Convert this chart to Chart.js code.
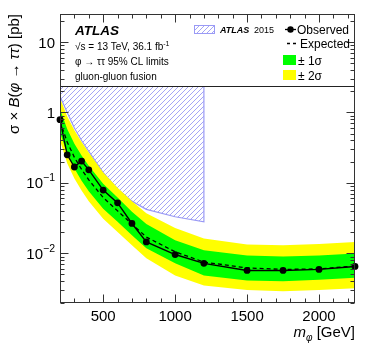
<!DOCTYPE html>
<html>
<head>
<meta charset="utf-8">
<script src="https://cdn.jsdelivr.net/npm/chart.js@4.4.1/dist/chart.umd.min.js"></script>
<style>
  html, body { margin: 0; padding: 0; background: #fff; }
  canvas { display: block; }
</style>
</head>
<body>
<canvas id="limitChart" width="374" height="361"></canvas>
<script>
// ── data (σ × B in pb) ──
const masses = [200, 250, 300, 350, 400, 500, 600, 700, 800, 1000, 1200, 1500, 1750, 2000, 2250];
const observed = [0.79, 0.25, 0.168, 0.204, 0.153, 0.079, 0.052, 0.0265, 0.0145, 0.0096, 0.0072, 0.0057, 0.0057, 0.0059, 0.0065];
const expected = [0.75, 0.38, 0.23, 0.155, 0.11, 0.062, 0.040, 0.026, 0.017, 0.0105, 0.0075, 0.0062, 0.0059, 0.0060, 0.0066];
const band1Up = [1.12, 0.58, 0.36, 0.245, 0.175, 0.097, 0.062, 0.039, 0.026, 0.0153, 0.0110, 0.0093, 0.0090, 0.0093, 0.0099];
const band1Down = [0.52, 0.26, 0.16, 0.107, 0.076, 0.043, 0.028, 0.018, 0.0118, 0.0072, 0.00485, 0.0041, 0.0040, 0.0042, 0.0045];
const band2Up = [1.6, 0.88, 0.56, 0.38, 0.27, 0.14, 0.085, 0.055, 0.037, 0.0228, 0.0162, 0.0133, 0.0130, 0.0135, 0.0145];
const band2Down = [0.40, 0.19, 0.115, 0.078, 0.055, 0.031, 0.020, 0.013, 0.0085, 0.00485, 0.0035, 0.0030, 0.0029, 0.0030, 0.0032];

// ATLAS 2015 exclusion (hatched)
const run1Masses = [200, 250, 300, 350, 400, 500, 600, 700, 800, 1000, 1200];
const run1Limit = [1.7, 1.0, 0.6, 0.4, 0.28, 0.14, 0.082, 0.055, 0.042, 0.033, 0.028];

const legendFloor = 2.35;   // lower edge of the text box
const xTickValues = [500, 1000, 1500, 2000];
const yTickValues = [10, 1, 0.1, 0.01];
const yTickLabels = [['10', ''], ['1', ''], ['10', '\u22121'], ['10', '\u22122']];

const FONT = '"Liberation Sans", Arial, Helvetica, sans-serif';
const HATCH = '#9a9af5';

function pts(xs, ys) {
  return xs.map((x, i) => ({ x, y: ys[i] }));
}

function makeHatch(ctx) {
  const p = document.createElement('canvas');
  p.width = 5; p.height = 5;
  const g = p.getContext('2d');
  g.strokeStyle = HATCH;
  g.lineWidth = 0.9;
  g.beginPath();
  g.moveTo(0, 5); g.lineTo(5, 0);
  g.moveTo(-1, 1); g.lineTo(1, -1);
  g.moveTo(4, 6); g.lineTo(6, 4);
  g.stroke();
  return ctx.createPattern(p, 'repeat');
}

const canvas = document.getElementById('limitChart');
const ctx = canvas.getContext('2d');
const hatch = makeHatch(ctx);

const hatchData = pts(run1Masses, run1Limit);
hatchData.push({ x: run1Masses[run1Masses.length - 1], y: legendFloor });

// text with a raised / lowered small part
function drawScript(c, x, y, base, script, size, dy, align) {
  c.font = `${size}px ${FONT}`;
  const wb = c.measureText(base).width;
  c.font = `${size * 0.7}px ${FONT}`;
  const ws = c.measureText(script).width;
  let x0 = align === 'right' ? x - wb - ws : x;
  c.textAlign = 'left';
  c.font = `${size}px ${FONT}`;
  c.fillText(base, x0, y);
  c.font = `${size * 0.7}px ${FONT}`;
  c.fillText(script, x0 + wb, y + dy);
}

const framePlugin = {
  id: 'frame',
  afterDraw(chart) {
    const c = chart.ctx;
    const { left, right, top, bottom } = chart.chartArea;
    const xs = chart.scales.x;
    const ys = chart.scales.y;
    c.save();
    c.fillStyle = '#000';
    c.strokeStyle = '#222';
    c.lineWidth = 1;

    // legend box lower edge
    const yl = Math.round(ys.getPixelForValue(legendFloor)) + 0.5;
    c.beginPath();
    c.moveTo(left, yl); c.lineTo(right, yl);
    c.stroke();

    // frame
    const L = Math.round(left) + 0.5, R = Math.round(right) - 0.5;
    const T = Math.round(top) + 0.5, B = Math.round(bottom) - 0.5;
    c.strokeStyle = '#333';
    c.strokeRect(L, T, R - L, B - T);

    // x ticks (inward, bottom and top)
    c.beginPath();
    for (let v = 300; v < 2250; v += 100) {
      const px = Math.round(xs.getPixelForValue(v)) + 0.5;
      const len = v % 500 === 0 ? 8 : 4;
      c.moveTo(px, B); c.lineTo(px, B - len);
      c.moveTo(px, T); c.lineTo(px, T + len);
    }
    // y ticks (inward, left and right)
    for (let d = -3; d <= 1; d++) {
      for (let m = 1; m <= 9; m++) {
        const v = m * Math.pow(10, d);
        if (v < ys.min || v > ys.max) continue;
        const py = Math.round(ys.getPixelForValue(v)) + 0.5;
        const len = m === 1 ? 8 : 4;
        c.moveTo(L, py); c.lineTo(L + len, py);
        c.moveTo(R, py); c.lineTo(R - len, py);
      }
    }
    c.stroke();

    // x tick labels
    c.font = `15px ${FONT}`;
    c.textAlign = 'center';
    c.textBaseline = 'alphabetic';
    xTickValues.forEach(v => {
      c.fillText(String(v), xs.getPixelForValue(v), bottom + 18);
    });

    // y tick labels
    yTickValues.forEach((v, i) => {
      const py = ys.getPixelForValue(v) + 5.5;
      const [base, sup] = yTickLabels[i];
      drawScript(c, 55, py, base, sup, 15, -7, 'right');
    });

    // x title: m_φ [GeV]
    c.textAlign = 'left';
    c.font = `italic 15px ${FONT}`;
    const wm = c.measureText('m').width;
    c.font = `italic 10px ${FONT}`;
    const wp = c.measureText('\u03c6').width;
    c.font = `15px ${FONT}`;
    const wg = c.measureText(' [GeV]').width;
    let x0 = right - wm - wp - wg;
    const by = 337;
    c.font = `italic 15px ${FONT}`;
    c.fillText('m', x0, by);
    c.font = `italic 10px ${FONT}`;
    c.fillText('\u03c6', x0 + wm, by + 4);
    c.font = `15px ${FONT}`;
    c.fillText(' [GeV]', x0 + wm + wp, by);

    // y title: σ × B(φ → ττ) [pb]
    c.save();
    c.translate(18.5, top);
    c.rotate(-Math.PI / 2);
    const parts = [
      ['\u03c3 \u00d7 ', ''],
      ['B', 'italic '],
      ['(', ''],
      ['\u03c6', 'italic '],
      [' \u2192 ', ''],
      ['\u03c4\u03c4', 'italic '],
      [') [pb]', ''],
    ];
    let total = 0;
    parts.forEach(([t, st]) => { c.font = `${st}15px ${FONT}`; total += c.measureText(t).width; });
    let tx = -total;
    parts.forEach(([t, st]) => {
      c.font = `${st}15px ${FONT}`;
      c.fillText(t, tx, 0);
      tx += c.measureText(t).width;
    });
    c.restore();

    // left legend text
    c.font = `italic bold 13.5px ${FONT}`;
    c.fillText('ATLAS', 75, 35);
    drawScript(c, 75, 50, '\u221as = 13 TeV, 36.1 fb', '-1', 10, -4, 'left');
    c.font = `10px ${FONT}`;
    c.fillText('\u03c6 \u2192 \u03c4\u03c4 95% CL limits', 75, 65);
    c.fillText('gluon-gluon fusion', 75, 80);

    // right legend: hatched box
    c.fillStyle = hatch;
    c.fillRect(194, 25, 21, 9);
    c.strokeStyle = HATCH;
    c.strokeRect(194.5, 25.5, 20, 8);
    c.fillStyle = '#000';
    c.font = `italic bold 9px ${FONT}`;
    c.fillText('ATLAS', 220, 33);
    c.font = `9px ${FONT}`;
    c.fillText('2015', 254, 33);

    // observed entry
    c.strokeStyle = '#000';
    c.lineWidth = 1.3;
    c.beginPath();
    c.moveTo(285, 29.5); c.lineTo(296, 29.5);
    c.stroke();
    c.beginPath();
    c.arc(290.5, 29.5, 3.2, 0, Math.PI * 2);
    c.fill();
    c.font = `12px ${FONT}`;
    c.fillText('Observed', 297, 33.5);

    // expected entry
    c.setLineDash([3, 3]);
    c.beginPath();
    c.moveTo(287, 43.5); c.lineTo(297, 43.5);
    c.stroke();
    c.setLineDash([]);
    c.fillText('Expected', 300, 47.5);

    // bands
    c.fillStyle = '#00ff00';
    c.fillRect(283, 55, 13, 10);
    c.fillStyle = '#ffff00';
    c.fillRect(283, 70, 13, 10);
    c.fillStyle = '#000';
    c.fillText('\u00b1 1\u03c3', 298, 64.5);
    c.fillText('\u00b1 2\u03c3', 298, 79.5);

    c.restore();
  },
};

new Chart(ctx, {
  type: 'line',
  data: {
    datasets: [
      {
        label: 'Observed',
        data: pts(masses, observed),
        borderColor: '#000',
        backgroundColor: '#000',
        borderWidth: 1.4,
        pointRadius: 3.4,
        pointBorderWidth: 0,
        fill: false,
        clip: false,
      },
      {
        label: 'Expected',
        data: pts(masses, expected),
        borderColor: '#000',
        borderWidth: 1.3,
        borderDash: [4, 3],
        pointRadius: 0,
        fill: false,
      },
      {
        label: '1 sigma up',
        data: pts(masses, band1Up),
        borderWidth: 0,
        pointRadius: 0,
        backgroundColor: '#00ff00',
        fill: '+1',
      },
      {
        label: '1 sigma down',
        data: pts(masses, band1Down),
        borderWidth: 0,
        pointRadius: 0,
        fill: false,
      },
      {
        label: '2 sigma up',
        data: pts(masses, band2Up),
        borderWidth: 0,
        pointRadius: 0,
        backgroundColor: '#ffff00',
        fill: '+1',
      },
      {
        label: '2 sigma down',
        data: pts(masses, band2Down),
        borderWidth: 0,
        pointRadius: 0,
        fill: false,
      },
      {
        label: 'ATLAS 2015',
        data: hatchData,
        borderColor: HATCH,
        borderWidth: 1.2,
        backgroundColor: hatch,
        pointRadius: 0,
        fill: { value: legendFloor },
      },
    ],
  },
  options: {
    responsive: false,
    animation: false,
    devicePixelRatio: 1,
    layout: { padding: { left: 60, top: 14, right: 19, bottom: 58.5 } },
    elements: { line: { tension: 0 } },
    plugins: {
      legend: { display: false },
      tooltip: { enabled: false },
    },
    scales: {
      x: { type: 'linear', min: 200, max: 2250, display: false },
      y: { type: 'logarithmic', min: 0.002, max: 25, display: false },
    },
  },
  plugins: [framePlugin],
});
</script>
</body>
</html>
